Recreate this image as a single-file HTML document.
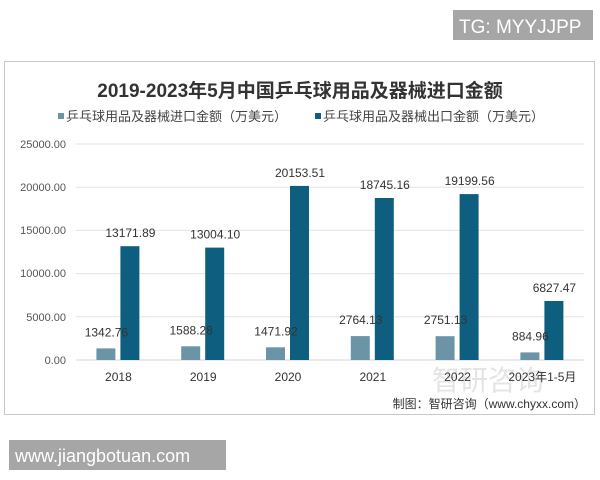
<!DOCTYPE html>
<html><head><meta charset="utf-8"><style>
body{margin:0;width:600px;height:480px;background:#fff;overflow:hidden;font-family:"Liberation Sans","Noto Sans CJK SC",sans-serif;}
</style></head><body>
<svg width="600" height="480" xmlns="http://www.w3.org/2000/svg" style="position:absolute;left:0;top:0">
<rect x="453" y="10" width="140" height="30" fill="#a6a6a6"/>
<text x="459" y="33" font-size="19" fill="#fff" font-family="Liberation Sans, sans-serif">TG: MYYJJPP</text>
<rect x="4.5" y="61.5" width="590" height="353" fill="#fff" stroke="#c8c8c8" stroke-width="1"/>
<text x="300" y="97" text-anchor="middle" font-size="19" font-weight="bold" fill="#333" font-family="Liberation Sans, Noto Sans CJK SC, sans-serif">2019-2023年5月中国乒乓球用品及器械进口金额</text>
<rect x="58" y="113" width="6" height="6" fill="#6b94a6"/>
<text x="66" y="121" font-size="13" fill="#444" font-family="Liberation Sans, Noto Sans CJK SC, sans-serif">乒乓球用品及器械进口金额（万美元）</text>
<rect x="315" y="113" width="6" height="6" fill="#0e5f7f"/>
<text x="323" y="121" font-size="13" fill="#444" font-family="Liberation Sans, Noto Sans CJK SC, sans-serif">乒乓球用品及器械出口金额（万美元）</text>
<g stroke="#e3e3e3" stroke-width="1">
<line x1="76" x2="584" y1="144" y2="144"/><line x1="76" x2="584" y1="187.2" y2="187.2"/>
<line x1="76" x2="584" y1="230.4" y2="230.4"/><line x1="76" x2="584" y1="273.6" y2="273.6"/>
<line x1="76" x2="584" y1="316.8" y2="316.8"/><line x1="76" x2="584" y1="360" y2="360" stroke="#d6d6d6"/>
</g>
<g font-size="11" fill="#555" text-anchor="end">
<text x="66" y="148">25000.00</text><text x="66" y="191">20000.00</text><text x="66" y="234">15000.00</text>
<text x="66" y="277">10000.00</text><text x="66" y="321">5000.00</text><text x="66" y="364">0.00</text>
</g>
<text x="432" y="390" font-size="28" fill="#e4e4e4" font-family="Noto Sans CJK SC, sans-serif">智研咨询</text>
<g fill="#6b94a6">
<rect x="96.4" y="348.4" width="19" height="11.6"/>
<rect x="181.2" y="346.3" width="19" height="13.7"/>
<rect x="266" y="347.3" width="19" height="12.7"/>
<rect x="350.8" y="336.1" width="19" height="23.9"/>
<rect x="435.6" y="336.2" width="19" height="23.8"/>
<rect x="520.4" y="352.4" width="19" height="7.6"/>
</g>
<g fill="#0e5f7f">
<rect x="120.4" y="246.2" width="19" height="113.8"/>
<rect x="205.2" y="247.6" width="19" height="112.4"/>
<rect x="290" y="185.9" width="19" height="174.1"/>
<rect x="374.8" y="198" width="19" height="162"/>
<rect x="459.6" y="194.1" width="19" height="165.9"/>
<rect x="544.4" y="301" width="19" height="59"/>
</g>
<g font-size="12" fill="#333" text-anchor="middle">
<text x="106.4" y="336.4">1342.76</text>
<text x="191.2" y="334.3">1588.28</text>
<text x="276" y="335.3">1471.92</text>
<text x="360.8" y="324.1">2764.13</text>
<text x="445.6" y="324.2">2751.13</text>
<text x="530.4" y="340.4">884.96</text>
<text x="130.4" y="237.2">13171.89</text>
<text x="215.2" y="238.6">13004.10</text>
<text x="300" y="176.9">20153.51</text>
<text x="384.8" y="189">18745.16</text>
<text x="469.6" y="185.1">19199.56</text>
<text x="554.4" y="292">6827.47</text>
</g>
<g font-size="12" fill="#333" text-anchor="middle" font-family="Liberation Sans, Noto Sans CJK SC, sans-serif">
<text x="118.4" y="381">2018</text>
<text x="203.2" y="381">2019</text>
<text x="288" y="381">2020</text>
<text x="372.8" y="381">2021</text>
<text x="457.6" y="381">2022</text>
<text x="542.4" y="381">2023年1-5月</text>
</g>
<text x="586" y="408" text-anchor="end" font-size="12" fill="#333" font-family="Liberation Sans, Noto Sans CJK SC, sans-serif">制图：智研咨询（www.chyxx.com）</text>
<rect x="9" y="440" width="217" height="30" fill="#a6a6a6"/>
<text x="15" y="462" font-size="18" fill="#fff">www.jiangbotuan.com</text>
</svg>
</body></html>
